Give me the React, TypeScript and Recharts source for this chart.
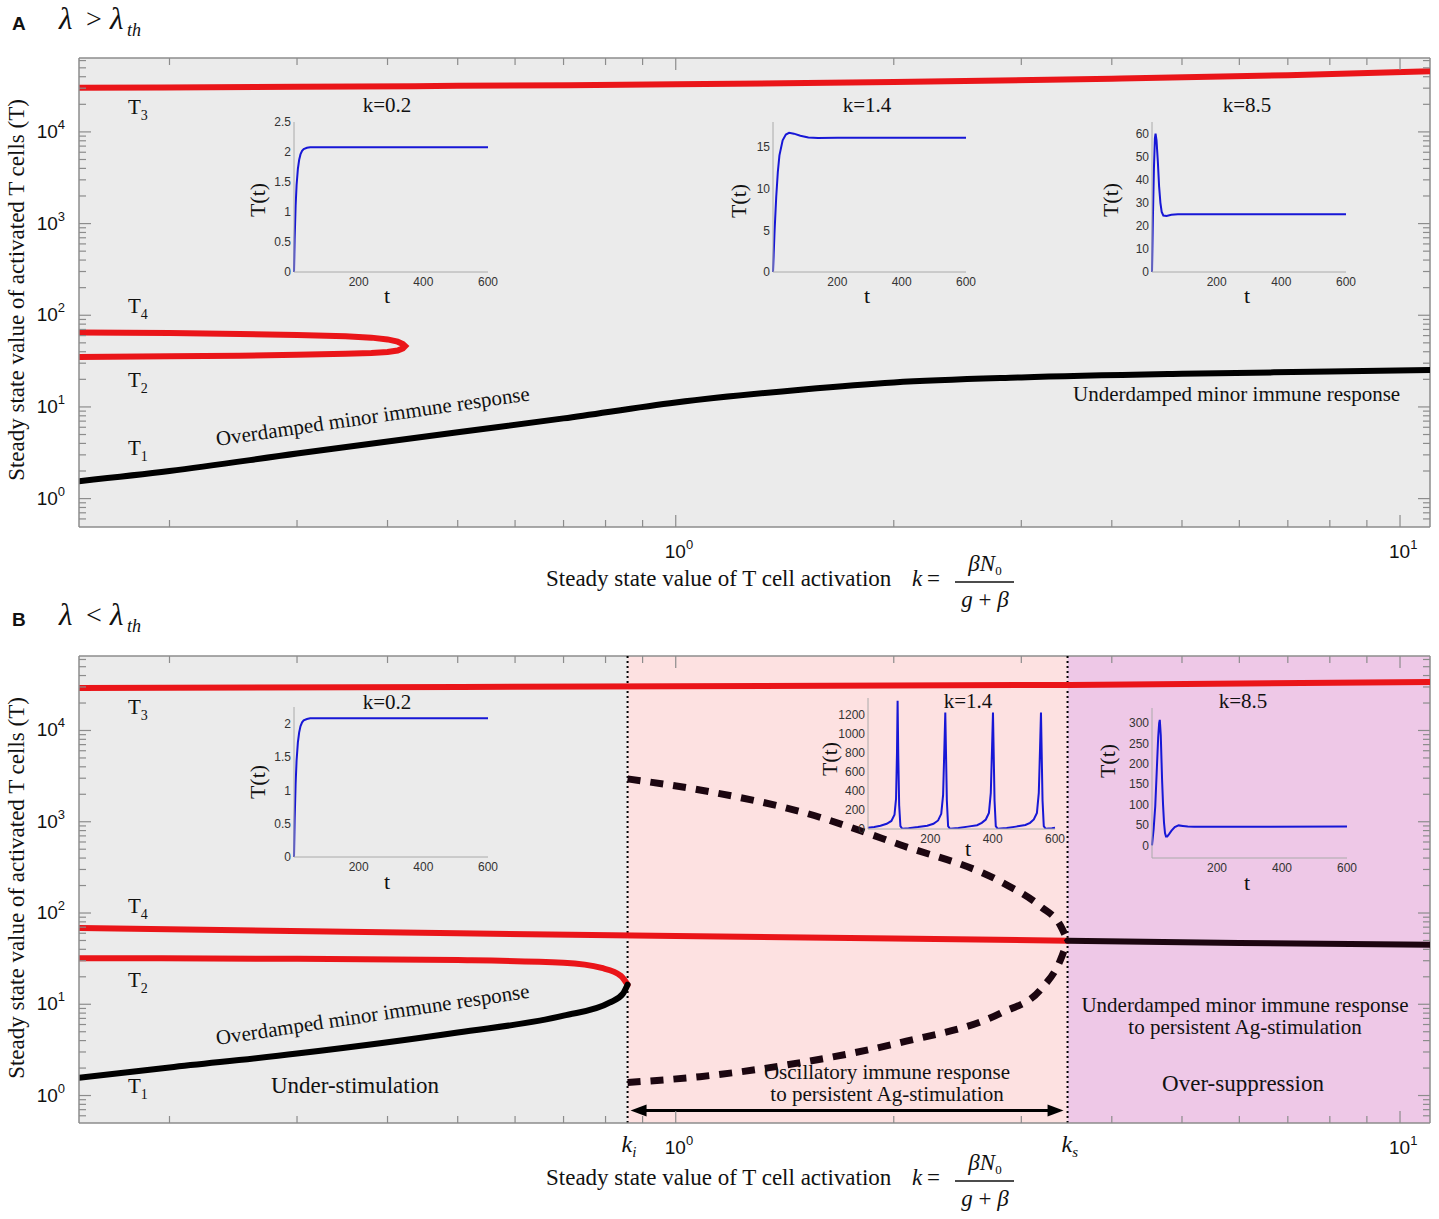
import React from 'react';
import { ComposedChart, LineChart, Line, XAxis, YAxis, ReferenceArea, ReferenceLine } from 'recharts';

const SERIF = '"Liberation Serif", "Times New Roman", serif';
const SANS = '"Liberation Sans", Arial, sans-serif';
const RED = '#ea1519';
const DARK = '#1c0610';
const BLUE = '#1717d6';
const GRAY_BG = '#ebebeb';
const PINK_BG = '#fde1e1';
const PURPLE_BG = '#eec8e7';
const FRAME = '#8c8c8c';

// page x of the plot frame (both panels)
const PLOT_L = 79;
const PLOT_R = 1430;

const K_MIN = 0.15;
const K_MAX = 11;
const T_MIN_A = 0.49;
const T_MAX_A = 64000;
const T_MIN_B = 0.5;
const T_MAX_B = 65500;
const K_I = 0.858;
const K_S = 3.475;
const ARROW_T = 0.685;

const K_MAJOR = [1, 10];
const K_MINOR = [0.2, 0.3, 0.4, 0.5, 0.6, 0.7, 0.8, 0.9, 2, 3, 4, 5, 6, 7, 8, 9];
const T_MAJOR = [1, 10, 100, 1000, 10000];
const T_MINOR = [
  0.6, 0.7, 0.8, 0.9, 2, 3, 4, 5, 6, 7, 8, 9, 20, 30, 40, 50, 60, 70, 80, 90,
  200, 300, 400, 500, 600, 700, 800, 900, 2000, 3000, 4000, 5000, 6000, 7000, 8000, 9000,
  20000, 30000, 40000, 50000, 60000,
];

// ---- panel A : lambda > lambda_th
const t3A = [
  { k: 0.15, v: 30400 }, { k: 0.3, v: 31000 }, { k: 0.5, v: 31800 }, { k: 1, v: 33000 },
  { k: 2, v: 35000 }, { k: 4, v: 38000 }, { k: 7, v: 41500 }, { k: 11, v: 46000 },
];
// T4 (upper) folding back into T2 (lower)
const foldA = [
  { k: 0.15, v: 65 }, { k: 0.2, v: 64 }, { k: 0.25, v: 62.5 }, { k: 0.3, v: 61 }, { k: 0.35, v: 59 },
  { k: 0.38, v: 57 }, { k: 0.4, v: 54.5 }, { k: 0.413, v: 51.5 }, { k: 0.42, v: 48.5 }, { k: 0.423, v: 46 },
  { k: 0.42, v: 43.5 }, { k: 0.413, v: 41.3 }, { k: 0.4, v: 39.8 }, { k: 0.38, v: 38.8 }, { k: 0.35, v: 38 },
  { k: 0.3, v: 37 }, { k: 0.25, v: 36.2 }, { k: 0.2, v: 35.6 }, { k: 0.15, v: 35.1 },
];
const t1A = [
  { k: 0.15, v: 1.55 }, { k: 0.2, v: 2.0 }, { k: 0.3, v: 3.1 }, { k: 0.5, v: 5.3 }, { k: 0.7, v: 7.5 },
  { k: 1, v: 11.2 }, { k: 1.5, v: 15.5 }, { k: 2, v: 18.5 }, { k: 3, v: 21 }, { k: 5, v: 23 },
  { k: 8, v: 24.3 }, { k: 11, v: 25.3 },
];

// ---- panel B : lambda < lambda_th
const t3B = [{ k: 0.15, v: 29300 }, { k: 1, v: 30500 }, { k: 3.5, v: 31600 }, { k: 11, v: 34000 }];
const t4B = [{ k: 0.15, v: 68.5 }, { k: 0.5, v: 60 }, { k: 1, v: 56 }, { k: 2, v: 52.4 }, { k: 3.475, v: 49.8 }];
const tHighB = [{ k: 3.475, v: 49.8 }, { k: 6, v: 47 }, { k: 11, v: 45 }];
const t2B = [
  { k: 0.15, v: 32 }, { k: 0.3, v: 31.5 }, { k: 0.5, v: 30.5 }, { k: 0.7, v: 28.5 },
  { k: 0.79, v: 25 }, { k: 0.84, v: 20.5 }, { k: 0.858, v: 16.4 },
];
const t1B = [
  { k: 0.15, v: 1.57 }, { k: 0.2, v: 2.03 }, { k: 0.3, v: 2.88 }, { k: 0.5, v: 4.9 }, { k: 0.7, v: 7.5 },
  { k: 0.81, v: 10.4 }, { k: 0.845, v: 13 }, { k: 0.858, v: 16.4 },
];
// unstable branches between k_i and k_s (dashed)
const unstableUpB = [
  { k: 0.858, v: 2950 }, { k: 1.08, v: 2230 }, { k: 1.49, v: 1285 }, { k: 2.04, v: 560 }, { k: 2.81, v: 220 },
  { k: 3.19, v: 118 }, { k: 3.4, v: 72 }, { k: 3.475, v: 49.8 },
];
const unstableLowB = [
  { k: 0.858, v: 1.39 }, { k: 1.08, v: 1.61 }, { k: 1.49, v: 2.3 }, { k: 2.04, v: 3.8 }, { k: 2.81, v: 8 },
  { k: 3.19, v: 14.5 }, { k: 3.4, v: 31 }, { k: 3.475, v: 49.8 },
];

// ---- inset time courses T(t)
const slowRise = [
  { t: 0, v: 0 }, { t: 2, v: 0.55 }, { t: 5, v: 1.1 }, { t: 8, v: 1.45 }, { t: 12, v: 1.72 }, { t: 16, v: 1.87 },
  { t: 20, v: 1.96 }, { t: 25, v: 2.02 }, { t: 30, v: 2.05 }, { t: 40, v: 2.07 }, { t: 50, v: 2.08 },
  { t: 100, v: 2.08 }, { t: 600, v: 2.08 },
];
const midA = [
  { t: 0, v: 0 }, { t: 5, v: 5 }, { t: 10, v: 9 }, { t: 15, v: 12 }, { t: 20, v: 14 }, { t: 30, v: 15.8 },
  { t: 40, v: 16.5 }, { t: 50, v: 16.7 }, { t: 65, v: 16.6 }, { t: 85, v: 16.35 }, { t: 110, v: 16.15 },
  { t: 140, v: 16.08 }, { t: 200, v: 16.1 }, { t: 600, v: 16.1 },
];
const highA = [
  { t: 0, v: 0 }, { t: 3, v: 25 }, { t: 6, v: 45 }, { t: 9, v: 58 }, { t: 11, v: 60 }, { t: 14, v: 57 },
  { t: 18, v: 48 }, { t: 22, v: 37 }, { t: 26, v: 30 }, { t: 30, v: 26 }, { t: 35, v: 24.5 }, { t: 45, v: 24.3 },
  { t: 60, v: 24.8 }, { t: 80, v: 25 }, { t: 600, v: 25 },
];
const oscB = [
  { t: 0, v: 14 }, { t: 20, v: 22 }, { t: 40, v: 35 }, { t: 60, v: 55 }, { t: 75, v: 85 }, { t: 85, v: 150 },
  { t: 90, v: 320 }, { t: 93, v: 800 }, { t: 95, v: 1351 }, { t: 97, v: 800 }, { t: 100, v: 250 }, { t: 104, v: 30 },
  { t: 110, v: 3 }, { t: 130, v: 8 }, { t: 160, v: 20 }, { t: 190, v: 35 }, { t: 210, v: 55 }, { t: 225, v: 90 },
  { t: 235, v: 160 }, { t: 241, v: 360 }, { t: 245, v: 850 }, { t: 248, v: 1228 }, { t: 250, v: 850 },
  { t: 253, v: 300 }, { t: 257, v: 30 }, { t: 263, v: 3 }, { t: 290, v: 10 }, { t: 320, v: 25 }, { t: 350, v: 40 },
  { t: 365, v: 65 }, { t: 378, v: 100 }, { t: 388, v: 170 }, { t: 394, v: 380 }, { t: 398, v: 850 },
  { t: 401, v: 1228 }, { t: 403, v: 850 }, { t: 406, v: 300 }, { t: 410, v: 30 }, { t: 416, v: 3 },
  { t: 445, v: 10 }, { t: 475, v: 25 }, { t: 505, v: 42 }, { t: 520, v: 65 }, { t: 532, v: 100 },
  { t: 542, v: 170 }, { t: 548, v: 380 }, { t: 552, v: 850 }, { t: 555, v: 1228 }, { t: 557, v: 850 },
  { t: 560, v: 300 }, { t: 564, v: 30 }, { t: 570, v: 3 }, { t: 590, v: 8 }, { t: 600, v: 12 },
];
const highB = [
  { t: 0, v: 0 }, { t: 5, v: 40 }, { t: 10, v: 96 }, { t: 15, v: 190 }, { t: 19, v: 265 }, { t: 22, v: 300 },
  { t: 24, v: 308 }, { t: 27, v: 270 }, { t: 31, v: 161 }, { t: 34, v: 100 }, { t: 37, v: 55 }, { t: 40, v: 30 },
  { t: 43, v: 22 }, { t: 47, v: 22 }, { t: 52, v: 27 }, { t: 60, v: 36 }, { t: 70, v: 45 }, { t: 82, v: 49 },
  { t: 95, v: 47.5 }, { t: 110, v: 46 }, { t: 130, v: 45.5 }, { t: 600, v: 46 },
];

const T_TICKS = [...T_MINOR, ...T_MAJOR];

const yTick = (props: any) => {
  const { y, payload } = props;
  const v = payload.value as number;
  const major = T_MAJOR.includes(v);
  const len = major ? 12 : 7;
  return (
    <g>
      <line x1={PLOT_L} x2={PLOT_L + len} y1={y} y2={y} stroke={FRAME} strokeWidth={1.2} />
      <line x1={PLOT_R} x2={PLOT_R - len} y1={y} y2={y} stroke={FRAME} strokeWidth={1.2} />
      {major && (
        <text x={65} y={y + 6} textAnchor="end" fontFamily={SANS} fontSize={19} fill="#111">
          10<tspan dy={-9} fontSize={13}>{Math.round(Math.log10(v))}</tspan>
        </text>
      )}
    </g>
  );
};

const makeXTick = (top: number, bottom: number) => (props: any) => {
  const { x, payload } = props;
  const v = payload.value as number;
  if (v === K_I || v === K_S) {
    return (
      <text x={x - 6} y={bottom + 29} fontFamily={SERIF} fontStyle="italic" fontSize={24} fill="#111">
        k<tspan dy={5} fontSize={15}>{v === K_I ? 'i' : 's'}</tspan>
      </text>
    );
  }
  const major = K_MAJOR.includes(v);
  const len = major ? 12 : 7;
  return (
    <g>
      <line x1={x} x2={x} y1={bottom} y2={bottom - len} stroke={FRAME} strokeWidth={1.2} />
      <line x1={x} x2={x} y1={top} y2={top + len} stroke={FRAME} strokeWidth={1.2} />
      {major && (
        <text x={x - 11} y={bottom + 31} fontFamily={SANS} fontSize={19} fill="#111">
          10<tspan dy={-9} fontSize={13}>{Math.round(Math.log10(v))}</tspan>
        </text>
      )}
    </g>
  );
};

const arrowShape = (p: any) => {
  const { x1, y1, x2 } = p;
  const a = x1 + 3;
  const b = x2 - 4;
  return (
    <g>
      <line x1={a + 12} x2={b - 12} y1={y1} y2={y1} stroke="#000" strokeWidth={3} />
      <polygon points={`${a},${y1} ${a + 16},${y1 - 6} ${a + 16},${y1 + 6}`} fill="#000" />
      <polygon points={`${b},${y1} ${b - 16},${y1 - 6} ${b - 16},${y1 + 6}`} fill="#000" />
    </g>
  );
};

const lineProps = { dot: false, isAnimationActive: false, activeDot: false, strokeLinecap: 'round' as const };
const dashProps = { dot: false, isAnimationActive: false, activeDot: false, strokeDasharray: '13 10' };

function Inset({ data, left, top, w, h, yDomain, yTicks }: any) {
  const YW = 40;
  const XH = 22;
  const MT = 10;
  const MR = 14;
  return (
    <div style={{ position: 'absolute', left: left - YW, top: top - MT }}>
      <LineChart width={YW + w + MR} height={MT + h + XH} margin={{ top: MT, right: MR, bottom: 0, left: 0 }} style={{ overflow: 'visible' }}>
        <XAxis dataKey="t" type="number" domain={[0, 600]} ticks={[200, 400, 600]} interval={0} tickLine={false}
          tickSize={3} tickMargin={2} height={XH} axisLine={{ stroke: '#aaaaaa' }}
          tick={{ fontSize: 12, fill: '#333', fontFamily: SANS }} />
        <YAxis dataKey="v" type="number" domain={yDomain} allowDataOverflow ticks={yTicks} interval={0} tickLine={false}
          tickSize={2} tickMargin={1} width={YW} axisLine={{ stroke: '#aaaaaa' }}
          tick={{ fontSize: 12, fill: '#333', fontFamily: SANS }} />
        <Line data={data} dataKey="v" type="linear" stroke={BLUE} strokeWidth={2} dot={false} isAnimationActive={false} />
      </LineChart>
    </div>
  );
}

const Sub = ({ x, y, main, sub, size = 21 }: any) => (
  <text x={x} y={y} fontFamily={SERIF} fontSize={size} fill="#111">
    {main}<tspan dy={6} fontSize={14}>{sub}</tspan>
  </text>
);

function AxisTitleX({ base }: { base: number }) {
  return (
    <g fontFamily={SERIF} fill="#111">
      <text x={546} y={base} fontSize={23}>Steady state value of T cell activation</text>
      <text x={912} y={base} fontSize={23} fontStyle="italic">k</text>
      <text x={927} y={base} fontSize={23}>=</text>
      <line x1={955} x2={1014} y1={base - 4} y2={base - 4} stroke="#111" strokeWidth={1.3} />
      <text x={985} y={base - 15} fontSize={23} textAnchor="middle" fontStyle="italic">
        βN<tspan dy={4} fontSize={13} fontStyle="normal">0</tspan>
      </text>
      <text x={985} y={base + 21} fontSize={23} textAnchor="middle">
        <tspan fontStyle="italic">g</tspan> + <tspan fontStyle="italic">β</tspan>
      </text>
    </g>
  );
}

function PanelTitle({ letter, cmp, base }: any) {
  return (
    <g fill="#111">
      <text x={12} y={base + 1} fontFamily={SANS} fontWeight="bold" fontSize={19}>{letter}</text>
      <text x={59} y={base} fontFamily={SERIF} fontStyle="italic" fontSize={31}>λ</text>
      <text x={86} y={base - 1} fontFamily={SERIF} fontSize={28}>{cmp}</text>
      <text x={110} y={base} fontFamily={SERIF} fontStyle="italic" fontSize={31}>λ</text>
      <text x={127} y={base + 7} fontFamily={SERIF} fontStyle="italic" fontSize={18}>th</text>
    </g>
  );
}

function InsetLabels({ title, tx, ty, lx, ly, xx, xy }: any) {
  return (
    <g fontFamily={SERIF} fill="#111">
      <text x={tx} y={ty} fontSize={21} textAnchor="middle">{title}</text>
      <text transform={`translate(${lx},${ly}) rotate(-90)`} fontSize={22} textAnchor="middle">T(t)</text>
      <text x={xx} y={xy} fontSize={22} textAnchor="middle">t</text>
    </g>
  );
}

export default function App() {
  const xTickA = makeXTick(58, 527);
  const xTickB = makeXTick(56, 523);
  return (
    <div style={{ position: 'absolute', left: 0, top: 0, width: 1439, height: 1219, background: '#fff', overflow: 'hidden' }}>
      {/* Panel A */}
      <div style={{ position: 'absolute', left: 0, top: 0 }}>
        <ComposedChart width={1439} height={600} margin={{ top: 58, right: 9, bottom: 0, left: 0 }}>
          <XAxis dataKey="k" type="number" scale="log" domain={[K_MIN, K_MAX]} allowDataOverflow
            ticks={[...K_MINOR, ...K_MAJOR]} interval={0} tick={xTickA} tickLine={false}
            axisLine={{ stroke: FRAME, strokeWidth: 1.5 }} height={73} />
          <YAxis dataKey="v" type="number" scale="log" domain={[T_MIN_A, T_MAX_A]} allowDataOverflow
            ticks={T_TICKS} interval={0} tick={yTick} tickLine={false}
            axisLine={{ stroke: FRAME, strokeWidth: 1.5 }} width={79} />
          <ReferenceArea x1={K_MIN} x2={K_MAX} y1={T_MIN_A} y2={T_MAX_A} fill={GRAY_BG} fillOpacity={1} stroke="none" />
          <ReferenceLine x={K_MAX} stroke={FRAME} strokeWidth={1.5} />
          <ReferenceLine y={T_MAX_A} stroke={FRAME} strokeWidth={1.5} />
          <Line data={t3A} dataKey="v" type="monotoneX" stroke={RED} strokeWidth={6} {...lineProps} />
          <Line data={foldA} dataKey="v" type="linear" stroke={RED} strokeWidth={6} {...lineProps} />
          <Line data={t1A} dataKey="v" type="monotoneX" stroke="#000" strokeWidth={6} {...lineProps} />
        </ComposedChart>
      </div>

      {/* Panel B */}
      <div style={{ position: 'absolute', left: 0, top: 600 }}>
        <ComposedChart width={1439} height={619} margin={{ top: 56, right: 9, bottom: 0, left: 0 }}>
          <XAxis dataKey="k" type="number" scale="log" domain={[K_MIN, K_MAX]} allowDataOverflow
            ticks={[...K_MINOR, ...K_MAJOR, K_I, K_S]} interval={0} tick={xTickB} tickLine={false}
            axisLine={{ stroke: FRAME, strokeWidth: 1.5 }} height={96} />
          <YAxis dataKey="v" type="number" scale="log" domain={[T_MIN_B, T_MAX_B]} allowDataOverflow
            ticks={T_TICKS} interval={0} tick={yTick} tickLine={false}
            axisLine={{ stroke: FRAME, strokeWidth: 1.5 }} width={79} />
          <ReferenceArea x1={K_MIN} x2={K_I} y1={T_MIN_B} y2={T_MAX_B} fill={GRAY_BG} fillOpacity={1} stroke="none" />
          <ReferenceArea x1={K_I} x2={K_S} y1={T_MIN_B} y2={T_MAX_B} fill={PINK_BG} fillOpacity={1} stroke="none" />
          <ReferenceArea x1={K_S} x2={K_MAX} y1={T_MIN_B} y2={T_MAX_B} fill={PURPLE_BG} fillOpacity={1} stroke="none" />
          <ReferenceLine x={K_MAX} stroke={FRAME} strokeWidth={1.5} />
          <ReferenceLine y={T_MAX_B} stroke={FRAME} strokeWidth={1.5} />
          <ReferenceLine x={K_I} stroke="#000" strokeWidth={2} strokeDasharray="2 3" />
          <ReferenceLine x={K_S} stroke="#000" strokeWidth={2} strokeDasharray="2 3" />
          <ReferenceLine segment={[{ x: K_I, y: ARROW_T }, { x: K_S, y: ARROW_T }]} shape={arrowShape} />
          <Line data={t3B} dataKey="v" type="monotoneX" stroke={RED} strokeWidth={6} {...lineProps} />
          <Line data={t4B} dataKey="v" type="monotoneX" stroke={RED} strokeWidth={6} {...lineProps} />
          <Line data={tHighB} dataKey="v" type="monotoneX" stroke={DARK} strokeWidth={6} {...lineProps} />
          <Line data={t2B} dataKey="v" type="monotoneX" stroke={RED} strokeWidth={6} {...lineProps} />
          <Line data={t1B} dataKey="v" type="monotoneX" stroke="#000" strokeWidth={6} {...lineProps} />
          <Line data={unstableUpB} dataKey="v" type="monotoneX" stroke={DARK} strokeWidth={7} {...dashProps} />
          <Line data={unstableLowB} dataKey="v" type="monotoneX" stroke={DARK} strokeWidth={7} {...dashProps} />
        </ComposedChart>
      </div>

      {/* insets */}
      <Inset data={slowRise} left={294} top={122} w={194} h={150} yDomain={[0, 2.5]} yTicks={[0, 0.5, 1, 1.5, 2, 2.5]} />
      <Inset data={midA} left={773} top={122} w={193} h={150} yDomain={[0, 18]} yTicks={[0, 5, 10, 15]} />
      <Inset data={highA} left={1152} top={122} w={194} h={150} yDomain={[0, 65]} yTicks={[0, 10, 20, 30, 40, 50, 60]} />
      <Inset data={slowRise} left={294} top={707} w={194} h={150} yDomain={[0, 2.25]} yTicks={[0, 0.5, 1, 1.5, 2]} />
      <Inset data={oscB} left={868} top={698} w={187} h={131} yDomain={[0, 1380]} yTicks={[0, 200, 400, 600, 800, 1000, 1200]} />
      <Inset data={highB} left={1152} top={708} w={195} h={150} yDomain={[-31, 337]} yTicks={[0, 50, 100, 150, 200, 250, 300]} />

      {/* text annotations */}
      <svg width={1439} height={1219} style={{ position: 'absolute', left: 0, top: 0, pointerEvents: 'none' }}>
        <PanelTitle letter="A" cmp=">" base={29} />
        <PanelTitle letter="B" cmp="<" base={625} />

        <text transform="translate(24,290) rotate(-90)" textAnchor="middle" fontFamily={SERIF} fontSize={23} fill="#111">
          Steady state value of activated T cells (T)
        </text>
        <text transform="translate(24,888) rotate(-90)" textAnchor="middle" fontFamily={SERIF} fontSize={23} fill="#111">
          Steady state value of activated T cells (T)
        </text>
        <AxisTitleX base={586} />
        <AxisTitleX base={1185} />

        <Sub x={128} y={114} main="T" sub="3" />
        <Sub x={128} y={313} main="T" sub="4" />
        <Sub x={128} y={387} main="T" sub="2" />
        <Sub x={128} y={455} main="T" sub="1" />
        <Sub x={128} y={714} main="T" sub="3" />
        <Sub x={128} y={913} main="T" sub="4" />
        <Sub x={128} y={987} main="T" sub="2" />
        <Sub x={128} y={1093} main="T" sub="1" />

        <g fontFamily={SERIF} fontSize={21} fill="#111">
          <text transform="translate(217,446) rotate(-8.3)">Overdamped minor immune response</text>
          <text x={1073} y={401}>Underdamped minor immune response</text>
          <text transform="translate(217,1045) rotate(-8.6)">Overdamped minor immune response</text>
          <text x={887} y={1079} textAnchor="middle">Oscillatory immune response</text>
          <text x={887} y={1101} textAnchor="middle">to persistent Ag-stimulation</text>
          <text x={1245} y={1012} textAnchor="middle">Underdamped minor immune response</text>
          <text x={1245} y={1034} textAnchor="middle">to persistent Ag-stimulation</text>
          <text x={355} y={1093} textAnchor="middle" fontSize={23}>Under-stimulation</text>
          <text x={1243} y={1091} textAnchor="middle" fontSize={23}>Over-suppression</text>
        </g>

        <InsetLabels title="k=0.2" tx={387} ty={112} lx={265} ly={200} xx={387} xy={303} />
        <InsetLabels title="k=1.4" tx={867} ty={112} lx={746} ly={201} xx={867} xy={303} />
        <InsetLabels title="k=8.5" tx={1247} ty={112} lx={1118} ly={200} xx={1247} xy={303} />
        <InsetLabels title="k=0.2" tx={387} ty={709} lx={265} ly={782} xx={387} xy={889} />
        <InsetLabels title="k=1.4" tx={968} ty={708} lx={837} ly={759} xx={968} xy={856} />
        <InsetLabels title="k=8.5" tx={1243} ty={708} lx={1115} ly={761} xx={1247} xy={890} />
      </svg>
    </div>
  );
}
